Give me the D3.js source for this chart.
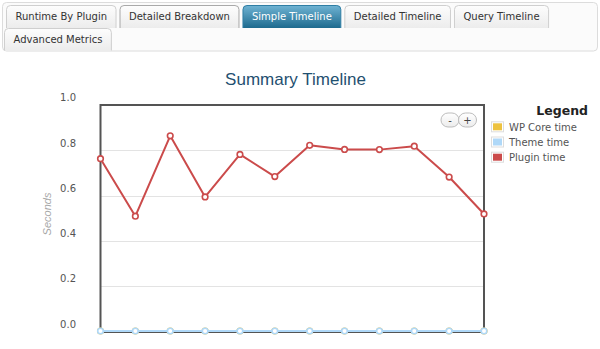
<!DOCTYPE html>
<html>
<head>
<meta charset="utf-8">
<script src="https://cdn.jsdelivr.net/npm/d3@7"></script>
<style>
html,body{margin:0;padding:0;background:#fff;}
svg{display:block;}
</style>
</head>
<body>
<svg id="chart" width="600" height="349"></svg>
<script>
// ---- data ----
const tabsRow1 = ["Runtime By Plugin", "Detailed Breakdown", "Simple Timeline", "Detailed Timeline", "Query Timeline"];
const tabsRow2 = ["Advanced Metrics"];
const activeTab = "Simple Timeline";
const chartTitle = "Summary Timeline";
const yAxisTitle = "Seconds";
const categories = [1, 2, 3, 4, 5, 6, 7, 8, 9, 10, 11, 12];
const wpCoreTime = [0, 0, 0, 0, 0, 0, 0, 0, 0, 0, 0, 0];
const themeTime  = [0, 0, 0, 0, 0, 0, 0, 0, 0, 0, 0, 0];
const pluginTime = [0.763, 0.509, 0.864, 0.594, 0.782, 0.684, 0.822, 0.804, 0.803, 0.818, 0.682, 0.519];
const yTicks = [0.0, 0.2, 0.4, 0.6, 0.8, 1.0];
const legendTitle = "Legend";
const seriesNames = ["WP Core time", "Theme time", "Plugin time"];
const seriesColors = ["#edc240", "#afd8f8", "#cb4b4b"];

// ---- drawing ----
const svg = d3.select("#chart");
const defs = svg.append("defs");

const g1 = defs.append("linearGradient").attr("id","tabGrad").attr("x1",0).attr("y1",0).attr("x2",0).attr("y2",1);
g1.append("stop").attr("offset","0%").attr("stop-color","#fdfdfd");
g1.append("stop").attr("offset","100%").attr("stop-color","#ececec");
const g2 = defs.append("linearGradient").attr("id","tabActive").attr("x1",0).attr("y1",0).attr("x2",0).attr("y2",1);
g2.append("stop").attr("offset","0%").attr("stop-color","#6fb3d3");
g2.append("stop").attr("offset","100%").attr("stop-color","#1d6a8e");
const g3 = defs.append("linearGradient").attr("id","btnGrad").attr("x1",0).attr("y1",0).attr("x2",0).attr("y2",1);
g3.append("stop").attr("offset","0%").attr("stop-color","#ffffff");
g3.append("stop").attr("offset","100%").attr("stop-color","#ececec");

// tab container
svg.append("rect").attr("x",2.5).attr("y",2.5).attr("width",595).attr("height",48.5)
  .attr("rx",4).attr("fill","#fbfbfb").attr("stroke","#dcdcdc");

function drawTabs(labels, startX, top, h) {
  let x = startX;
  labels.forEach(lbl => {
    const g = svg.append("g");
    const t = g.append("text").text(lbl)
      .attr("font-family","DejaVu Sans").attr("font-size","10px")
      .attr("fill", lbl === activeTab ? "#ffffff" : "#333333")
      .attr("y", top + h/2 + 3.5);
    const w = t.node().getComputedTextLength() + 19;
    const active = lbl === activeTab;
    const path = `M${x+0.5},${top+h} V${top+4.5} Q${x+0.5},${top+0.5} ${x+4.5},${top+0.5} H${x+w-4.5} Q${x+w-0.5},${top+0.5} ${x+w-0.5},${top+4.5} V${top+h}`;
    g.insert("path","text").attr("d",path)
      .attr("fill", active ? "url(#tabActive)" : "url(#tabGrad)")
      .attr("stroke", active ? "#2f7ea4" : (lbl === "Detailed Breakdown" ? "#a9a9a9" : "#cfcfcf"));
    t.attr("x", x + w/2).attr("text-anchor","middle");
    x += w + 3;
  });
}
drawTabs(tabsRow1, 6, 5, 23);
drawTabs(tabsRow2, 4, 28, 22.5);

// chart
const plot = {left: 100.5, right: 484, top: 105, bottom: 331.5};
const x = d3.scalePoint().domain(categories).range([plot.left, plot.right]);
const y = d3.scaleLinear().domain([0, 1]).range([plot.bottom, plot.top]);

svg.append("text").text(chartTitle).attr("x",295.5).attr("y",85)
  .attr("text-anchor","middle").attr("font-family","Liberation Sans, Arial")
  .attr("font-size","17px").attr("fill","#1f5070");

// gridlines
svg.append("g").selectAll("line").data(yTicks.filter(v => v > 0 && v < 1)).join("line")
  .attr("x1",plot.left).attr("x2",plot.right)
  .attr("y1",d => Math.round(y(d)) + 0.5).attr("y2",d => Math.round(y(d)) + 0.5)
  .attr("stroke","#e3e3e3").attr("stroke-width",1);

// y axis labels (via d3 axis, styled)
const yAxis = d3.axisLeft(y).tickValues(yTicks).tickFormat(d3.format(".1f")).tickSize(0).tickPadding(0);
const ag = svg.append("g").attr("transform","translate(76,-7.5)").call(yAxis);
ag.select(".domain").remove();
ag.selectAll("text").attr("font-family","DejaVu Sans").attr("font-size","10px").attr("fill","#545454");

svg.append("text").text(yAxisTitle)
  .attr("transform","translate(51,214) rotate(-90)")
  .attr("text-anchor","middle").attr("font-family","Liberation Sans, Arial")
  .attr("font-style","italic").attr("font-size","11px").attr("fill","#a8a8a8");

// border
svg.append("rect").attr("x",plot.left).attr("y",plot.top)
  .attr("width",plot.right - plot.left).attr("height",plot.bottom + 0.5 - plot.top)
  .attr("fill","none").attr("stroke","#545454").attr("stroke-width",2);

// series
const allSeries = [wpCoreTime, themeTime, pluginTime];
const line = d3.line().x((d,i) => x(categories[i])).y(d => y(d) - (d === 0 ? 0.5 : 0));
allSeries.forEach((vals, si) => {
  svg.append("path").datum(vals).attr("d", line)
    .attr("fill","none").attr("stroke",seriesColors[si]).attr("stroke-width",2)
    .attr("stroke-linejoin","round");
  svg.append("g").selectAll("circle").data(vals).join("circle")
    .attr("cx",(d,i) => x(categories[i])).attr("cy",d => y(d) - (d === 0 ? 0.5 : 0))
    .attr("r",2.8).attr("fill","#fff").attr("stroke",seriesColors[si]).attr("stroke-width",1.6);
});

// zoom buttons
[["-",450],["+",467.5]].forEach(([s,cx]) => {
  svg.append("rect").attr("x",cx-9).attr("y",113).attr("width",18).attr("height",14).attr("rx",7)
    .attr("fill","url(#btnGrad)").attr("stroke","#bdbdbd");
  svg.append("text").text(s).attr("x",cx).attr("y",123.5).attr("text-anchor","middle")
    .attr("font-family","DejaVu Sans").attr("font-size","10px").attr("fill","#444");
});

// legend
svg.append("text").text(legendTitle).attr("x",588).attr("y",114.5).attr("text-anchor","end")
  .attr("font-family","DejaVu Sans").attr("font-weight","bold").attr("font-size","12.5px").attr("fill","#222");
const lg = svg.append("g").selectAll("g").data(seriesNames).join("g")
  .attr("transform",(d,i) => `translate(0,${127.3 + i*15.2})`);
lg.append("rect").attr("x",491.5).attr("y",-5.5).attr("width",12).attr("height",10)
  .attr("fill","#fff").attr("stroke","#dddddd");
lg.append("rect").attr("x",493).attr("y",-4).attr("width",9).attr("height",7)
  .attr("fill",(d,i) => seriesColors[i]);
lg.append("text").text(d => d).attr("x",509).attr("y",3.5)
  .attr("font-family","DejaVu Sans").attr("font-size","10px").attr("fill","#545454");
</script>
</body>
</html>
